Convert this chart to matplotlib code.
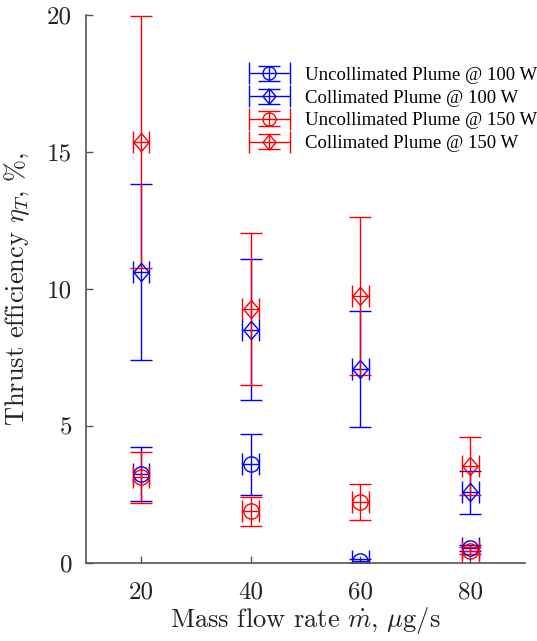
import numpy as np
import matplotlib
matplotlib.use('Agg')
import matplotlib.pyplot as plt
from matplotlib.legend_handler import HandlerErrorbar
from matplotlib.container import ErrorbarContainer

plt.rcParams['font.family'] = ['Liberation Serif', 'DejaVu Serif']
plt.rcParams['mathtext.fontset'] = 'cm'

# mass flow rate, ug/s
mdot = np.array([20, 40, 60, 80])

# thrust efficiency, % (values and +/- errors)
unc_100 = np.array([3.25, 3.6, 0.08, 0.55])
unc_100_err = np.array([1.0, 1.12, 0.08, 0.12])
col_100 = np.array([10.62, 8.52, 7.08, 2.58])
col_100_err = np.array([3.2, 2.56, 2.13, 0.78])
unc_150 = np.array([3.12, 1.88, 2.22, 0.45])
unc_150_err = np.array([0.94, 0.54, 0.66, 0.12])
col_150 = np.array([15.35, 9.28, 9.74, 3.54])
col_150_err = np.array([4.6, 2.77, 2.88, 1.06])

labels = ['Uncollimated Plume @ 100 W', 'Collimated Plume @ 100 W',
          'Uncollimated Plume @ 150 W', 'Collimated Plume @ 150 W']

xerr = 1.5

# matlab-like diamond (a bit taller than wide)
diamond = [(0, 1), (0.85, 0), (0, -1), (-0.85, 0), (0, 1)]

fig = plt.figure(figsize=(5.37, 6.41), dpi=100)
ax = fig.add_axes([0.160, 0.1217, 0.818, 0.855])

series = [(unc_100, unc_100_err, 'o', 'b', 11),
          (col_100, col_100_err, diamond, 'b', 13),
          (unc_150, unc_150_err, 'o', 'r', 11),
          (col_150, col_150_err, diamond, 'r', 13)]
for (y, e, m, c, ms), lab in zip(series, labels):
    ax.errorbar(mdot, y, yerr=e, xerr=xerr, fmt='', marker=m,
                linestyle='none', color=c, mfc='none', mec=c, ms=ms,
                mew=1.0, elinewidth=1.0, capsize=8, capthick=1.0, label=lab)

ax.set_xlim(10, 90)
ax.set_ylim(0, 20)
ax.set_xticks([20, 40, 60, 80])
ax.set_yticks([0, 5, 10, 15, 20])
ax.spines['top'].set_visible(False)
ax.spines['right'].set_visible(False)
for s in ['left', 'bottom']:
    ax.spines[s].set_color('#555555')
    ax.spines[s].set_linewidth(1.2)
ax.tick_params(direction='in', length=5, width=1, colors='#555555',
               labelcolor='#222222', labelsize=18, pad=10)
ax.tick_params(axis='x', pad=13)
for t in ax.get_xticklabels() + ax.get_yticklabels():
    t.set_fontfamily('cmr10')

ax.set_xlabel(r'Mass flow rate $\dot{m}$, $\mu$g/s', fontsize=19,
              fontfamily='cmr10', color='#222222')
ax.xaxis.set_label_coords(0.5, -0.076)
ax.set_ylabel(r'Thrust efficiency $\eta_T$, $\%$,', fontsize=19,
              fontfamily='cmr10', color='#222222')
ax.yaxis.set_label_coords(-0.122, 0.5)

ax.legend(loc='upper left', bbox_to_anchor=(0.345, 0.919),
          frameon=False, fontsize=13.5, handlelength=2.6, handletextpad=0.6,
          labelspacing=0.3, borderaxespad=0.0, markerscale=0.85,
          handler_map={ErrorbarContainer: HandlerErrorbar(xerr_size=1.1,
                                                          yerr_size=0.4)})

fig.savefig('out.png', dpi=100)
